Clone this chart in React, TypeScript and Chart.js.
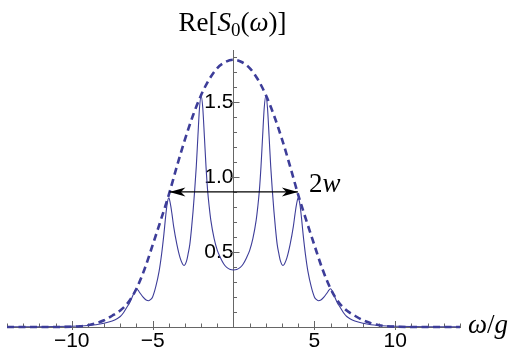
import React, { useEffect, useRef } from "react";
import { Chart, registerables } from "chart.js";

Chart.register(...registerables);

// ---- data ----
const solidX = [
  -14, -12, -11, -10, -9.5, -9, -8.5, -8, -7.5, -7.2, -7.0, -6.8, -6.6, -6.4, -6.2, -6.1, -6.0, -5.9, -5.8, -5.6,
  -5.4, -5.25, -5.1, -5.0, -4.8, -4.6, -4.45, -4.3, -4.2, -4.1, -4.0, -3.9, -3.8, -3.7, -3.5, -3.3, -3.15, -3.05,
  -2.9, -2.8, -2.7, -2.6, -2.5, -2.4, -2.3, -2.2, -2.1, -2.0, -1.9, -1.8, -1.7, -1.6, -1.5, -1.4, -1.2, -1.0, -0.8,
  -0.6, -0.4, -0.2, 0,
  0.2, 0.4, 0.6, 0.8, 1.0, 1.2, 1.4, 1.5, 1.6, 1.7, 1.8, 1.9, 2.0, 2.1, 2.2, 2.3, 2.4, 2.5, 2.6, 2.7, 2.8, 2.9,
  3.05, 3.15, 3.3, 3.5, 3.7, 3.8, 3.9, 4.0, 4.1, 4.2, 4.3, 4.45, 4.6, 4.8, 5.0, 5.1, 5.25, 5.4, 5.6, 5.8, 5.9, 6.0,
  6.1, 6.2, 6.4, 6.6, 6.8, 7.0, 7.2, 7.5, 8, 8.5, 9, 9.5, 10, 11, 12, 14,
];
const solidY = [
  0.001, 0.002, 0.003, 0.005, 0.007, 0.01, 0.015, 0.025, 0.04, 0.055, 0.07, 0.095, 0.13, 0.165, 0.215, 0.24, 0.255,
  0.245, 0.23, 0.2, 0.18, 0.175, 0.185, 0.2, 0.27, 0.37, 0.48, 0.62, 0.73, 0.82, 0.86, 0.82, 0.75, 0.67, 0.55, 0.46,
  0.42, 0.41, 0.44, 0.49, 0.55, 0.65, 0.77, 0.91, 1.07, 1.27, 1.46, 1.54, 1.46, 1.27, 1.07, 0.91, 0.8, 0.71, 0.59,
  0.51, 0.46, 0.42, 0.395, 0.383, 0.38,
  0.383, 0.395, 0.42, 0.46, 0.51, 0.59, 0.71, 0.8, 0.91, 1.07, 1.27, 1.46, 1.54, 1.46, 1.27, 1.07, 0.91, 0.77, 0.65,
  0.55, 0.49, 0.44, 0.41, 0.42, 0.46, 0.55, 0.67, 0.75, 0.82, 0.86, 0.82, 0.73, 0.62, 0.48, 0.37, 0.27, 0.2, 0.185,
  0.175, 0.18, 0.2, 0.23, 0.245, 0.255, 0.24, 0.215, 0.165, 0.13, 0.095, 0.07, 0.055, 0.04, 0.025, 0.015, 0.01,
  0.007, 0.005, 0.003, 0.002, 0.001,
];

const envelopeX = [
  -14, -11, -10, -9.5, -9, -8.5, -8, -7.5, -7, -6.5, -6, -5.5, -5, -4.5, -4, -3.5, -3, -2.5, -2, -1.5, -1, -0.5, 0,
  0.5, 1, 1.5, 2, 2.5, 3, 3.5, 4, 4.5, 5, 5.5, 6, 6.5, 7, 7.5, 8, 8.5, 9, 9.5, 10, 11, 14,
];
const envelopeY = [
  0, 0, 0.002, 0.005, 0.012, 0.025, 0.045, 0.075, 0.11, 0.165, 0.255, 0.385, 0.545, 0.71, 0.88, 1.07, 1.25, 1.41,
  1.545, 1.65, 1.725, 1.765, 1.78,
  1.765, 1.725, 1.65, 1.545, 1.41, 1.25, 1.07, 0.88, 0.71, 0.545, 0.385, 0.255, 0.165, 0.11, 0.075, 0.045, 0.025,
  0.012, 0.005, 0.002, 0, 0,
];

const arrowX = [-3.96, 3.98];
const arrowY = [0.9, 0.9];

const xRange = [-14, 14];
const yRange = [0, 1.845];
const xMajorTicks = [-10, -5, 5, 10];
const xTickLabels = ["\u221210", "\u22125", "5", "10"];
const yMajorTicks = [0.5, 1.0, 1.5];
const yTickLabels = ["0.5", "1.0", "1.5"];
const xMinorStep = 1;
const yMinorStep = 0.1;

const CURVE = "rgb(61,61,153)";
const AXIS = "#666666";
const SERIF = "'Liberation Serif', 'DejaVu Serif', serif";
const SANS = "'Liberation Sans', Arial, sans-serif";

export default function App() {
  const ref = useRef<HTMLCanvasElement>(null);

  useEffect(() => {
    const canvas = ref.current;
    if (!canvas) return;
    const pts = (xs: number[], ys: number[]) => xs.map((x, i) => ({ x, y: ys[i] }));

    const overlay = {
      id: "overlay",
      beforeDatasetsDraw(chart: any) {
        const ctx = chart.ctx;
        const xs = chart.scales.x;
        const ys = chart.scales.y;
        const x0 = xs.getPixelForValue(0);
        const y0 = ys.getPixelForValue(0);
        ctx.save();
        ctx.strokeStyle = AXIS;
        ctx.lineWidth = 1;
        ctx.beginPath();
        for (let v = xRange[0]; v <= xRange[1] + 1e-9; v += xMinorStep) {
          if (Math.abs(v) < 1e-9) continue;
          const px = Math.round(xs.getPixelForValue(v)) + 0.5;
          const major = xMajorTicks.some((m) => Math.abs(m - v) < 1e-9);
          ctx.moveTo(px, y0 + (major ? 3 : 0));
          ctx.lineTo(px, y0 - (major ? 6 : 3.5));
        }
        for (let v = yMinorStep; v <= yRange[1] + 1e-9; v += yMinorStep) {
          const py = Math.round(ys.getPixelForValue(v)) + 0.5;
          const major = yMajorTicks.some((m) => Math.abs(m - v) < 1e-6);
          ctx.moveTo(x0 - (major ? 3 : 0), py);
          ctx.lineTo(x0 + (major ? 6 : 3.5), py);
        }
        ctx.stroke();
        ctx.restore();
      },
      afterDatasetsDraw(chart: any) {
        const ctx = chart.ctx;
        const xs = chart.scales.x;
        const ys = chart.scales.y;
        const x0 = xs.getPixelForValue(0);
        const y0 = ys.getPixelForValue(0);
        ctx.save();
        // arrowheads
        const ay = ys.getPixelForValue(arrowY[0]);
        const ends = [
          { x: xs.getPixelForValue(arrowX[0]), dir: 1 },
          { x: xs.getPixelForValue(arrowX[1]), dir: -1 },
        ];
        ctx.fillStyle = "#000";
        ends.forEach(({ x, dir }) => {
          const L = 16;
          const h = 4.5;
          ctx.beginPath();
          ctx.moveTo(x, ay);
          ctx.lineTo(x + dir * L, ay - h);
          ctx.lineTo(x + dir * L * 0.72, ay);
          ctx.lineTo(x + dir * L, ay + h);
          ctx.closePath();
          ctx.fill();
        });

        const drawParts = (parts: { t: string; f: string; dy?: number }[], x: number, y: number, align: "left" | "center") => {
          let w = 0;
          parts.forEach((p) => {
            ctx.font = p.f;
            w += ctx.measureText(p.t).width;
          });
          let cx = align === "center" ? x - w / 2 : x;
          ctx.fillStyle = "#000";
          ctx.textBaseline = "alphabetic";
          ctx.textAlign = "left";
          parts.forEach((p) => {
            ctx.font = p.f;
            ctx.fillText(p.t, cx, y + (p.dy || 0));
            cx += ctx.measureText(p.t).width;
          });
        };
        const n = `27px ${SERIF}`;
        const it = `italic 27px ${SERIF}`;
        const sub = `19px ${SERIF}`;
        // title
        drawParts(
          [
            { t: "Re[", f: n },
            { t: "S", f: it },
            { t: "0", f: sub, dy: 5 },
            { t: "(", f: n },
            { t: "\u03c9", f: it },
            { t: ")]", f: n },
          ],
          x0 - 1,
          31,
          "center"
        );
        // 2w label
        drawParts(
          [
            { t: "2", f: n },
            { t: "w", f: it },
          ],
          ends[1].x + 11,
          ay,
          "left"
        );
        // axis label
        drawParts(
          [
            { t: "\u03c9", f: it },
            { t: "/", f: n },
            { t: "g", f: it },
          ],
          chart.chartArea.right + 8,
          y0 + 6,
          "left"
        );
        ctx.restore();
      },
    };

    const chart = new Chart(canvas, {
      type: "line",
      data: {
        datasets: [
          {
            data: pts(arrowX, arrowY),
            borderColor: "#000",
            borderWidth: 1.3,
            pointRadius: 0,
            clip: false,
          },
          {
            data: pts(envelopeX, envelopeY),
            borderColor: CURVE,
            borderWidth: 2.6,
            borderDash: [7, 4.5],
            pointRadius: 0,
            cubicInterpolationMode: "monotone",
            clip: false,
          },
          {
            data: pts(solidX, solidY),
            borderColor: CURVE,
            borderWidth: 1.1,
            pointRadius: 0,
            cubicInterpolationMode: "monotone",
            clip: false,
          },
        ],
      } as any,
      options: {
        animation: false,
        responsive: false,
        events: [],
        parsing: false as any,
        layout: { padding: { left: 7, right: 54, top: 50, bottom: 22 } },
        plugins: {
          legend: { display: false },
          tooltip: { enabled: false },
          title: { display: false },
        },
        scales: {
          x: {
            type: "linear",
            min: xRange[0],
            max: xRange[1],
            position: { y: 0 } as any,
            grid: { display: false, drawTicks: false },
            border: { display: true, color: AXIS, width: 1 },
            ticks: {
              color: "#000",
              font: { family: SANS, size: 21 },
              padding: 2,
              maxRotation: 0,
              autoSkip: false,
              callback: (v: any) => {
                const i = xMajorTicks.indexOf(Number(v));
                return i >= 0 ? xTickLabels[i] : "";
              },
            },
            afterBuildTicks: (s: any) => {
              s.ticks = xMajorTicks.map((value) => ({ value }));
            },
            afterFit: (s: any) => {
              s.height = 0;
            },
          },
          y: {
            type: "linear",
            min: yRange[0],
            max: yRange[1],
            position: { x: 0 } as any,
            grid: { display: false, drawTicks: false },
            border: { display: true, color: AXIS, width: 1 },
            ticks: {
              color: "#000",
              font: { family: SANS, size: 21 },
              padding: 4,
              autoSkip: false,
              callback: (v: any) => {
                const i = yMajorTicks.findIndex((m) => Math.abs(m - Number(v)) < 1e-6);
                return i >= 0 ? yTickLabels[i] : "";
              },
            },
            afterBuildTicks: (s: any) => {
              s.ticks = yMajorTicks.map((value) => ({ value }));
            },
            afterFit: (s: any) => {
              s.width = 0;
            },
          },
        },
      } as any,
      plugins: [overlay],
    });
    return () => chart.destroy();
  }, []);

  return (
    <div style={{ position: "fixed", left: 0, top: 0, width: 514, height: 349, background: "#fff" }}>
      <canvas ref={ref} width={514} height={349} style={{ display: "block", width: 514, height: 349 }} />
    </div>
  );
}
